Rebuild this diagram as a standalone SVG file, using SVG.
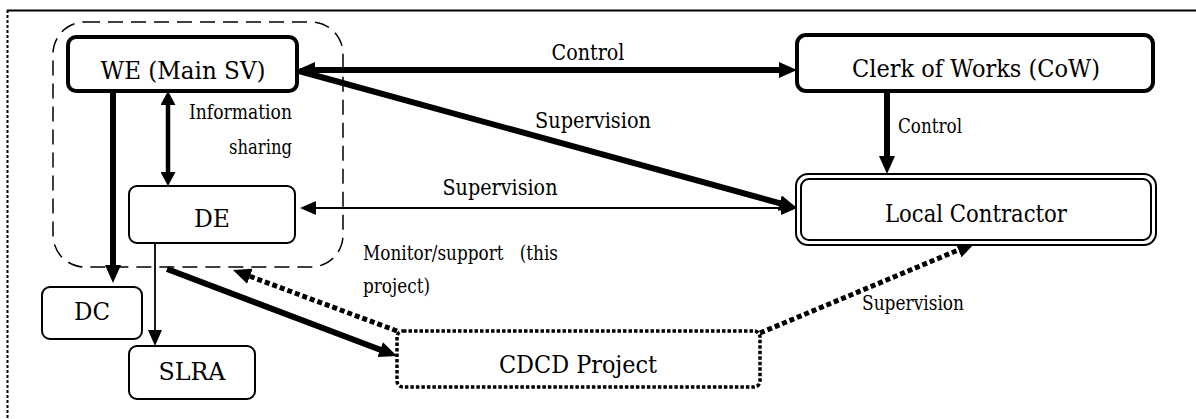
<svg xmlns="http://www.w3.org/2000/svg" width="1196" height="419" viewBox="0 0 1196 419">
  <style>
    text { font-family: "DejaVu Serif", "Liberation Serif", serif; fill: #000; }
    .node { font-size: 24px; text-anchor: middle; }
    .lbl { font-size: 22px; text-anchor: middle; }
    .sm { font-size: 19.5px; }
    .box { fill: #fff; stroke: #000; }
    .thick { stroke: #000; stroke-width: 6; fill: none; }
    .mid { stroke: #000; stroke-width: 4.5; fill: none; }
    .thin { stroke: #000; stroke-width: 1.8; fill: none; }
    .dots { stroke: #000; stroke-width: 5; fill: none; stroke-dasharray: 5 3; }
  </style>
  <defs>
    <marker id="ah-thick" markerUnits="userSpaceOnUse" markerWidth="18" markerHeight="16" refX="10" refY="8" orient="auto-start-reverse">
      <path d="M0,0 L18,8 L0,16 z" fill="#000"/>
    </marker>
    <marker id="ah-mid" markerUnits="userSpaceOnUse" markerWidth="14" markerHeight="15" refX="8" refY="7.5" orient="auto-start-reverse">
      <path d="M0,0 L14,7.5 L0,15 z" fill="#000"/>
    </marker>
    <marker id="ah-thin" markerUnits="userSpaceOnUse" markerWidth="16" markerHeight="14" refX="14" refY="7" orient="auto-start-reverse">
      <path d="M0,0 L16,7 L0,14 z" fill="#000"/>
    </marker>
  </defs>

  <!-- page frame: solid top rule, dotted left rule -->
  <g id="frame">
    <line x1="7" y1="10.5" x2="1196" y2="10.5" stroke="#000" stroke-width="2"/>
    <line x1="7.5" y1="10" x2="7.5" y2="419" stroke="#000" stroke-width="2" stroke-dasharray="3 2"/>
  </g>

  <!-- dashed grouping around WE and DE -->
  <g id="group-we-de">
    <rect x="53" y="22" width="290" height="245" rx="32" fill="none" stroke="#000" stroke-width="1.5" stroke-dasharray="15 8"/>
  </g>

  <g id="connectors">
    <!-- WE <-> CoW : Control -->
    <line class="thick" x1="305" y1="70" x2="789" y2="70" marker-start="url(#ah-thick)" marker-end="url(#ah-thick)"/>
    <!-- WE -> Local Contractor : Supervision -->
    <line class="thick" x1="299" y1="71" x2="789.3" y2="205.8" marker-end="url(#ah-thick)"/>
    <!-- DE <-> Local Contractor : Supervision -->
    <line class="thin" x1="302" y1="208" x2="795" y2="208" marker-start="url(#ah-thin)" marker-end="url(#ah-thin)"/>
    <!-- CoW -> Local Contractor : Control -->
    <line class="thick" x1="887" y1="91" x2="887" y2="166" marker-end="url(#ah-thick)"/>
    <!-- WE <-> DE : Information sharing -->
    <line class="mid" x1="168" y1="97" x2="168" y2="180" marker-start="url(#ah-mid)" marker-end="url(#ah-mid)"/>
    <!-- WE -> DC -->
    <line class="thick" x1="113" y1="91" x2="113" y2="275" marker-end="url(#ah-thick)"/>
    <!-- DE -> SLRA -->
    <line class="thin" x1="155" y1="243" x2="155" y2="344" marker-end="url(#ah-thin)"/>
    <!-- DE -> CDCD Project -->
    <line class="thick" x1="167" y1="269" x2="389.5" y2="353.2" marker-end="url(#ah-thick)"/>
    <!-- CDCD Project -> DE : Monitor/support -->
    <line class="dots" x1="397" y1="331" x2="240.5" y2="272.8" marker-end="url(#ah-thick)"/>
    <!-- CDCD Project -> Local Contractor : Supervision -->
    <line class="dots" x1="760" y1="333" x2="967.6" y2="246.1" marker-end="url(#ah-thick)"/>
  </g>

  <g id="labels">
    <text class="lbl" x="588" y="60" textLength="73" lengthAdjust="spacingAndGlyphs">Control</text>
    <text class="lbl" x="593" y="128" textLength="116" lengthAdjust="spacingAndGlyphs">Supervision</text>
    <text class="lbl" x="500" y="195" textLength="115" lengthAdjust="spacingAndGlyphs">Supervision</text>
    <text class="sm" x="189" y="119" textLength="103" lengthAdjust="spacingAndGlyphs">Information</text>
    <text class="sm" x="229" y="154" textLength="63" lengthAdjust="spacingAndGlyphs">sharing</text>
    <text class="sm" x="898" y="133" textLength="64" lengthAdjust="spacingAndGlyphs">Control</text>
    <text class="sm" x="363" y="260" textLength="195" lengthAdjust="spacingAndGlyphs" xml:space="preserve">Monitor/support   (this</text>
    <text class="sm" x="363" y="293" textLength="67" lengthAdjust="spacingAndGlyphs">project)</text>
    <text class="sm" x="862" y="310" textLength="102" lengthAdjust="spacingAndGlyphs">Supervision</text>
  </g>

  <g id="node-we">
    <rect class="box" x="68" y="37" width="229" height="54" rx="8" stroke-width="4"/>
    <text class="node" x="183" y="79" textLength="165" lengthAdjust="spacingAndGlyphs">WE (Main SV)</text>
  </g>
  <g id="node-cow">
    <rect class="box" x="797" y="35" width="356" height="56" rx="9" stroke-width="4"/>
    <text class="node" x="976" y="77" textLength="248" lengthAdjust="spacingAndGlyphs">Clerk of Works (CoW)</text>
  </g>
  <g id="node-lc">
    <rect class="box" x="796" y="174" width="360" height="71" rx="12" stroke-width="2"/>
    <rect x="801" y="179" width="350" height="61" rx="8" fill="none" stroke="#000" stroke-width="2"/>
    <text class="node" x="976" y="222" textLength="182" lengthAdjust="spacingAndGlyphs">Local Contractor</text>
  </g>
  <g id="node-de">
    <rect class="box" x="129" y="186" width="166" height="57" rx="8" stroke-width="2"/>
    <text class="node" x="212" y="227" textLength="36" lengthAdjust="spacingAndGlyphs">DE</text>
  </g>
  <g id="node-dc">
    <rect class="box" x="42" y="287" width="100" height="52" rx="8" stroke-width="2"/>
    <text class="node" x="92" y="320" textLength="36" lengthAdjust="spacingAndGlyphs">DC</text>
  </g>
  <g id="node-slra">
    <rect class="box" x="129" y="346" width="126" height="53" rx="8" stroke-width="2"/>
    <text class="node" x="192" y="380" textLength="67" lengthAdjust="spacingAndGlyphs">SLRA</text>
  </g>
  <g id="node-cdcd">
    <rect class="box" x="397" y="331" width="363" height="56" rx="6" stroke-width="3.5" stroke-dasharray="3.5 2"/>
    <text class="node" x="578" y="373" textLength="158" lengthAdjust="spacingAndGlyphs">CDCD Project</text>
  </g>
</svg>
